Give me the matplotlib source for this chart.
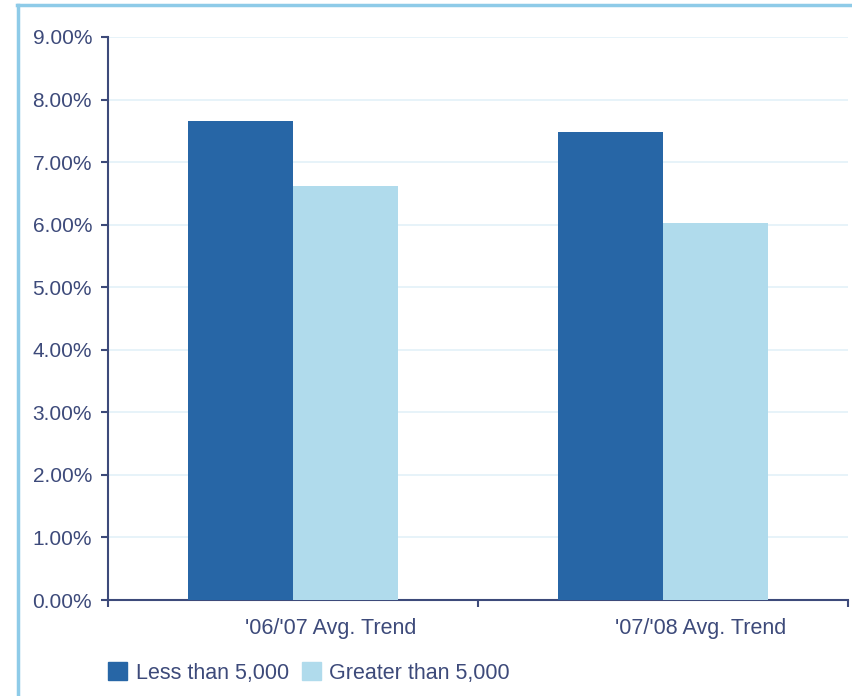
import matplotlib.pyplot as plt
import matplotlib.patches as mpatches
from matplotlib.lines import Line2D
import numpy as np

plt.rcParams['font.family'] = ['Liberation Sans', 'DejaVu Sans']

categorias = ["'06/'07 Avg. Trend", "'07/'08 Avg. Trend"]
series = ["Less than 5,000", "Greater than 5,000"]
menos_5000 = [7.66, 7.48]
mais_5000 = [6.62, 6.03]

cor_escura = "#2766a6"
cor_clara = "#b0dbec"
cor_texto = "#3d4a7a"
cor_grade = "#e3f1f8"
cor_borda = "#8ecbe8"
tam_fonte = 15.5

fig = plt.figure(figsize=(8.52, 6.96), dpi=100)
ax = fig.add_axes([108 / 852, 96 / 696, 740 / 852, 563 / 696])

x = np.arange(len(categorias)) + 0.5
width = 0.284

ax.bar(x - width / 2, menos_5000, width, color=cor_escura, zorder=3)
ax.bar(x + width / 2, mais_5000, width, color=cor_clara, zorder=3)

ax.set_xlim(0, 2)
ax.set_ylim(0, 9)
ax.set_yticks(np.arange(0, 10, 1))
ax.set_yticklabels([f"{v:.2f}%" for v in np.arange(0, 10, 1)])

# ticks nas divisas das categorias, rótulos um pouco à direita do centro
ax.set_xticks([0, 1, 2])
ax.set_xticklabels([])
ax.set_xticks(x + 0.103, minor=True)
ax.set_xticklabels(categorias, minor=True)
ax.tick_params(axis="x", which="minor", length=0, pad=13)
ax.tick_params(axis="x", which="major", length=5, width=1.5, color=cor_texto)
ax.tick_params(labelsize=tam_fonte, labelcolor=cor_texto, which="both")
ax.tick_params(axis="y", length=5, width=1.5, color=cor_texto, pad=6.5, labelsize=15)

ax.grid(axis="y", color=cor_grade, linewidth=1.2, zorder=0)
for lado in ["top", "right"]:
    ax.spines[lado].set_visible(False)
for lado in ["left", "bottom"]:
    ax.spines[lado].set_color(cor_texto)
    ax.spines[lado].set_linewidth(1.5)

# moldura azul clara
fig.add_artist(Line2D([18 / 852, 18 / 852], [0, 691 / 696], color=cor_borda, linewidth=2.5))
fig.add_artist(Line2D([17 / 852, 1], [691 / 696, 691 / 696], color=cor_borda, linewidth=2.5))

handles = [mpatches.Patch(color=cor_escura, label=series[0]),
           mpatches.Patch(color=cor_clara, label=series[1])]
fig.legend(handles=handles, loc="center left", bbox_to_anchor=(108 / 852, 23 / 696),
           ncol=2, frameon=False, fontsize=tam_fonte, labelcolor=cor_texto,
           handlelength=0.9, handleheight=0.9, handletextpad=0.38,
           columnspacing=0.6, borderaxespad=0, borderpad=0)

plt.savefig("out.png", dpi=100)
